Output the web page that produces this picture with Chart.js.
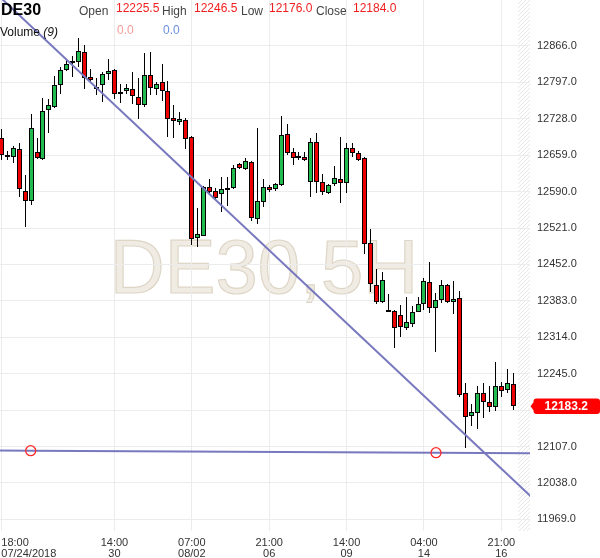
<!DOCTYPE html>
<html><head><meta charset="utf-8">
<script src="https://cdn.jsdelivr.net/npm/chart.js@4.4.0/dist/chart.umd.min.js"></script>
<style>
html,body{margin:0;padding:0;background:#fff;}
#wrap{position:relative;width:600px;height:558px;overflow:hidden;background:#fff;}
canvas{position:absolute;left:0;top:0;}
.t{position:absolute;white-space:nowrap;line-height:1;font-family:Arial,"Liberation Sans",sans-serif;font-size:12px;}
.lab{color:#444;top:5px;}
.val{color:#f01e1e;top:1.5px;}
</style></head><body>
<div id="wrap">
<canvas id="c" width="600" height="558"></canvas>
<div class="t" id="sym" style="left:1px;top:2px;font-size:16px;font-weight:bold;color:#000"></div>
<div class="t lab" style="left:79px">Open</div>
<div class="t val" id="vO" style="left:116px"></div>
<div class="t lab" style="left:162px">High</div>
<div class="t val" id="vH" style="left:194px"></div>
<div class="t lab" style="left:241px">Low</div>
<div class="t val" id="vL" style="left:269px"></div>
<div class="t lab" style="left:316px">Close</div>
<div class="t val" id="vC" style="left:353px"></div>
<div class="t" style="left:0px;top:26px;color:#111">Volume <i>(9)</i></div>
<div class="t" id="vol1" style="left:117px;top:24px;color:#f79a9a"></div>
<div class="t" id="vol2" style="left:163px;top:24px;color:#6a8fe0"></div>
</div>
<script>
// ---- data ----
const symbol = 'DE30';
const watermark = 'DE30,5H';
const openV  = [12692,12656,12656,12671,12591,12572,12665,12652,12745,12750,12792,12821,12834,12836,12855,12807,12787,12792,12813,12821,12775,12781,12785,12769,12754,12811,12785,12798,12781,12730,12722,12726,12694,12502,12506,12599,12591,12586,12594,12597,12642,12633,12646,12538,12570,12599,12595,12603,12699,12665,12658,12656,12608,12684,12608,12588,12605,12614,12606,12673,12663,12654,12493,12413,12381,12363,12364,12356,12332,12339,12362,12377,12419,12370,12385,12413,12381,12389,12209,12165,12171,12209,12191,12182,12222,12214,12225.5];
const highV  = [12709,12667,12677,12682,12622,12737,12692,12768,12766,12809,12826,12841,12847,12881,12868,12822,12805,12817,12841,12822,12794,12794,12817,12805,12853,12855,12798,12832,12800,12754,12741,12730,12695,12559,12600,12614,12597,12618,12618,12641,12644,12654,12648,12711,12614,12603,12606,12733,12718,12673,12665,12665,12692,12701,12624,12605,12639,12694,12682,12682,12667,12655,12519,12443,12438,12396,12365,12375,12390,12373,12390,12426,12457,12398,12423,12415,12421,12402,12227,12188,12222,12227,12222,12267,12229,12254,12246.5];
const lowV   = [12650,12650,12644,12580,12523,12565,12652,12650,12701,12748,12775,12819,12807,12826,12785,12800,12773,12760,12802,12766,12758,12775,12756,12728,12750,12773,12773,12762,12694,12692,12716,12671,12489,12485,12505,12588,12576,12552,12563,12595,12633,12631,12534,12529,12561,12589,12591,12601,12660,12641,12650,12648,12580,12588,12584,12586,12601,12569,12588,12656,12648,12472,12400,12377,12379,12362,12294,12315,12328,12334,12361,12366,12360,12286,12379,12379,12358,12201,12104,12146,12140,12161,12173,12174,12201,12209,12176];
const closeV = [12660,12659,12673,12595,12572,12711,12654,12743,12754,12792,12821,12832,12838,12857,12805,12802,12789,12813,12819,12775,12779,12786,12771,12754,12811,12786,12794,12781,12728,12724,12728,12690,12500,12510,12599,12589,12578,12595,12596,12635,12635,12648,12540,12572,12599,12593,12605,12697,12663,12654,12654,12650,12684,12608,12589,12603,12616,12606,12673,12663,12650,12491,12415,12381,12423,12365,12332,12334,12343,12362,12377,12421,12370,12385,12413,12381,12387,12205,12163,12173,12209,12191,12182,12222,12212,12227,12184];
const lastPrice = 12183.2;
const volumeUp = 0.0, volumeDown = 0.0;

const yTickVals = [11969,12038,12107,12176,12245,12314,12383,12452,12521,12590,12659,12728,12797,12866];
const xTickIdx  = [0,19,32,45,58,71,84];
const xTickTime = ['18:00','14:00','07:00','21:00','14:00','04:00','21:00'];
const xTickDate = ['07/24/2018','30','08/02','06','09','14','16'];

// drawn trendlines (candle index, price)
const trendX = [-2, 90];
const trendY = [12977.5, 12001.3];
const supportX = [-2, 4.94, 73.02, 91];
const supportY = [12099.5, 12099.1, 12095.3, 12094.3];
const supportMarker = [false, true, true, false];

// ---- view range ----
const xMin = -0.218, xMax = 88.81;
const yMin = 11947, yMax = 12953;

const upColor = '#22bb4f', downColor = '#ee0000';
const gridColor = '#ececec';
const lineColor = '#7878be';
const FONT = 'Arial, "Liberation Sans", sans-serif';

// header texts
const n = openV.length - 1;
document.getElementById('sym').textContent = symbol;
document.getElementById('vO').textContent = openV[n].toFixed(1);
document.getElementById('vH').textContent = highV[n].toFixed(1);
document.getElementById('vL').textContent = lowV[n].toFixed(1);
document.getElementById('vC').textContent = closeV[n].toFixed(1);
document.getElementById('vol1').textContent = volumeUp.toFixed(1);
document.getElementById('vol2').textContent = volumeDown.toFixed(1);

const bodies = openV.map((o,i)=>({x:i, y:[o, closeV[i]]}));
const wicks  = openV.map((o,i)=>({x:i, y:[lowV[i], highV[i]]}));
const bodyColors = openV.map((o,i)=> closeV[i] >= o ? upColor : downColor);
const trend = trendX.map((x,i)=>({x, y:trendY[i]}));
const support = supportX.map((x,i)=>({x, y:supportY[i]}));

Chart.defaults.font.family = FONT;

const bgPlugin = {
  id:'bg',
  afterDatasetsUpdate(chart){
    // snap candle elements to whole pixels for crisp rendering
    chart.data.datasets.forEach((ds, i) => {
      const meta = chart.getDatasetMeta(i);
      if (meta.type !== 'bar') return;
      meta.data.forEach(el => {
        el.x = Math.floor(el.x) + 0.5;
        let y = Math.round(el.y), b = Math.round(el.base);
        if (Math.abs(y - b) < 2) { b = y + 2; }
        el.y = y; el.base = b;
      });
    });
  },
  beforeDraw(chart){
    const {ctx, chartArea:a} = chart;
    // hatched future zone
    ctx.save();
    const hx = a.right - 12;
    ctx.beginPath(); ctx.rect(hx, a.top, a.right-hx, a.bottom-a.top); ctx.clip();
    ctx.beginPath();
    ctx.strokeStyle = '#e6e6e6'; ctx.lineWidth = 1;
    for (let y = a.top - 20; y < a.bottom + 20; y += 4) { ctx.moveTo(hx, y + 12); ctx.lineTo(a.right, y); }
    ctx.stroke();
    ctx.restore();
    // watermark
    ctx.save();
    ctx.font = '76px ' + FONT;
    ctx.textAlign = 'center'; ctx.textBaseline = 'alphabetic';
    const cx = (a.left + a.right)/2 - 1;
    const by = (a.top + a.bottom)/2 + 27.5;
    ctx.fillStyle = 'rgba(240,236,227,1)';
    ctx.fillText(watermark, cx, by);
    ctx.strokeStyle = 'rgba(222,214,199,1)'; ctx.lineWidth = 1.2;
    ctx.strokeText(watermark, cx, by);
    ctx.restore();
  },
  afterDraw(chart){
    const {ctx, chartArea:a} = chart;
    const y = chart.scales.y.getPixelForValue(lastPrice);
    const x0 = a.right + 3.5, x1 = 600, h = 15.5, r = 3;
    ctx.save();
    ctx.fillStyle = '#ff0000';
    ctx.beginPath();
    ctx.moveTo(a.right + 0.5, y);
    ctx.lineTo(x0, y - 4);
    ctx.lineTo(x0, y - h/2 + r);
    ctx.arcTo(x0, y - h/2, x0 + r, y - h/2, r);
    ctx.lineTo(x1 - r, y - h/2);
    ctx.arcTo(x1, y - h/2, x1, y - h/2 + r, r);
    ctx.lineTo(x1, y + h/2 - r);
    ctx.arcTo(x1, y + h/2, x1 - r, y + h/2, r);
    ctx.lineTo(x0 + r, y + h/2);
    ctx.arcTo(x0, y + h/2, x0, y + h/2 - r, r);
    ctx.lineTo(x0, y + 4);
    ctx.closePath();
    ctx.fill();
    ctx.fillStyle = '#fff';
    ctx.font = 'bold 12px ' + FONT;
    ctx.textAlign = 'center'; ctx.textBaseline = 'middle';
    ctx.fillText(lastPrice.toFixed(1), (x0 + x1)/2 - 0.5, y + 0.5);
    ctx.restore();
  }
};

new Chart(document.getElementById('c'), {
  type: 'bar',
  data: { datasets: [
    { type:'line', data: trend, borderColor: lineColor, borderWidth: 2, pointRadius: 0, order: 0 },
    { type:'line', data: support, borderColor: lineColor, borderWidth: 2,
      pointRadius: supportMarker.map(m => m ? 5 : 0), pointBorderColor: '#ff2a2a',
      pointBackgroundColor: 'rgba(255,255,255,0)', pointBorderWidth: 1.3, order: 0 },
    { data: bodies, backgroundColor: bodyColors, borderColor: '#000', borderWidth: 1,
      borderSkipped: false, barThickness: 5, grouped: false, minBarLength: 1, inflateAmount: 0, order: 1 },
    { data: wicks, backgroundColor: '#000', borderWidth: 0, barThickness: 1, grouped: false, inflateAmount: 0, order: 2 }
  ]},
  options: {
    responsive: false, animation: false, events: [],
    layout: { padding: 0, autoPadding: false },
    plugins: { legend: { display: false }, tooltip: { enabled: false } },
    scales: {
      x: {
        type: 'linear', min: xMin, max: xMax, offset: false,
        grid: { offset: false, drawTicks: false,
                color: c => (c.tick && c.tick.value === xMax) ? 'rgba(0,0,0,0)' : gridColor },
        border: { display: false },
        ticks: { align: 'inner', padding: 6, color: '#333', autoSkip: false, maxRotation: 0,
                 font: { size: 11, lineHeight: 1 },
                 callback: (v) => { const k = xTickIdx.indexOf(v); return k < 0 ? '' : [xTickTime[k], xTickDate[k]]; } },
        afterBuildTicks: s => { s.ticks = xTickIdx.map(v => ({value: v})).concat([{value: xMax}]); },
        afterFit: s => { s.height = 27; s.paddingLeft = 0; s.paddingRight = 0; }
      },
      y: {
        type: 'linear', position: 'right', min: yMin, max: yMax,
        grid: { color: gridColor, drawTicks: false },
        border: { display: false },
        ticks: { padding: 7, color: '#333', font: { size: 11 }, callback: v => Number(v).toFixed(1) },
        afterBuildTicks: s => { s.ticks = yTickVals.map(v => ({value: v})); },
        afterFit: s => { s.width = 70; s.paddingTop = 0; s.paddingBottom = 0; }
      }
    }
  },
  plugins: [bgPlugin]
});
</script>
</body></html>
